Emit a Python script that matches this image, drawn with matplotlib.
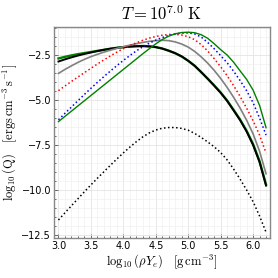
import matplotlib
matplotlib.use("Agg")
import matplotlib.pyplot as plt
from matplotlib.ticker import MultipleLocator

plt.rcParams['mathtext.fontset'] = 'cm'

log_rho = [3.0, 3.1, 3.2, 3.3, 3.4, 3.5, 3.6, 3.7, 3.8, 3.9, 4.0, 4.1, 4.2, 4.3, 4.4, 4.5,
           4.6, 4.7, 4.8, 4.9, 5.0, 5.1, 5.2, 5.3, 5.4, 5.5, 5.6, 5.7, 5.8, 5.9, 6.0, 6.1, 6.2]

q_black_thick = [-2.86, -2.74, -2.63, -2.53, -2.44, -2.36, -2.28, -2.21, -2.15, -2.1, -2.06,
                 -2.03, -2.01, -2.0, -2.02, -2.06, -2.14, -2.26, -2.4, -2.58, -2.82, -3.1,
                 -3.45, -3.82, -4.2, -4.6, -5.05, -5.58, -6.12, -6.75, -7.5, -8.45, -9.76]
q_green_thick = [-2.69, -2.6, -2.52, -2.45, -2.39, -2.33, -2.27, -2.21, -2.15, -2.1, -2.06,
                 -2.03, -2.01, -2.0, -2.02, -2.06, -2.14, -2.26, -2.4, -2.58, -2.82, -3.1,
                 -3.45, -3.81, -4.19, -4.58, -5.03, -5.55, -6.09, -6.71, -7.45, -8.4, -9.7]
q_gray = [-3.52, -3.3, -3.1, -2.91, -2.74, -2.59, -2.46, -2.34, -2.23, -2.13, -2.04, -1.95,
          -1.87, -1.8, -1.74, -1.7, -1.68, -1.7, -1.77, -1.89, -2.06, -2.3, -2.6, -2.95,
          -3.35, -3.8, -4.3, -4.85, -5.45, -6.12, -6.88, -7.85, -9.1]
q_red = [-4.48, -4.22, -3.97, -3.72, -3.48, -3.24, -3.0, -2.77, -2.55, -2.34, -2.15, -1.98,
         -1.82, -1.68, -1.56, -1.47, -1.4, -1.36, -1.35, -1.39, -1.48, -1.65, -1.92, -2.27,
         -2.7, -3.15, -3.65, -4.2, -4.8, -5.45, -6.15, -6.95, -7.95]
q_blue = [-6.1, -5.74, -5.39, -5.04, -4.69, -4.35, -4.02, -3.7, -3.39, -3.09, -2.8, -2.53,
          -2.27, -2.04, -1.84, -1.67, -1.53, -1.42, -1.33, -1.28, -1.27, -1.33, -1.5, -1.8,
          -2.15, -2.53, -2.93, -3.4, -3.92, -4.48, -5.15, -6.0, -6.95]
q_green = [-6.2, -5.91, -5.62, -5.33, -5.04, -4.75, -4.46, -4.17, -3.88, -3.59, -3.3, -3.01,
           -2.72, -2.43, -2.15, -1.88, -1.64, -1.45, -1.32, -1.25, -1.23, -1.26, -1.37, -1.57,
           -1.87, -2.2, -2.5, -2.9, -3.38, -3.85, -4.45, -5.3, -6.54]
q_dotted = [-11.67, -11.27, -10.88, -10.49, -10.1, -9.72, -9.35, -8.99, -8.63, -8.28, -7.94,
            -7.62, -7.32, -7.05, -6.83, -6.67, -6.57, -6.53, -6.53, -6.58, -6.68, -6.86,
            -7.08, -7.33, -7.6, -7.92, -8.33, -8.84, -9.4, -10.0, -10.65, -11.45, -12.35]

fig = plt.figure(figsize=(2.78, 2.78), dpi=100)
ax = fig.add_axes([0.194, 0.144, 0.777, 0.759])

ax.plot(log_rho, q_green_thick, color='green', lw=1.7)
ax.plot(log_rho, q_black_thick, color='black', lw=1.4)
ax.plot(log_rho, q_gray, color='gray', lw=1.2)
ax.plot(log_rho, q_red, color='red', lw=1.1, ls=':')
ax.plot(log_rho, q_blue, color='blue', lw=1.1, ls=':')
ax.plot(log_rho, q_green, color='green', lw=1.0)
ax.plot(log_rho, q_dotted, color='black', lw=1.1, ls=':')

ax.set_xlim(2.93, 6.26)
ax.set_ylim(-12.67, -0.94)
ax.xaxis.set_major_locator(MultipleLocator(0.5))
ax.xaxis.set_minor_locator(MultipleLocator(0.1))
ax.yaxis.set_major_locator(MultipleLocator(2.5))
ax.yaxis.set_minor_locator(MultipleLocator(0.5))
ax.grid(which='major', color='#e4e4e4', lw=0.6)
ax.grid(which='minor', color='#f0f0f0', lw=0.5)
ax.tick_params(which='both', direction='in', colors='#555555', labelcolor='black', labelsize=7, width=0.6, pad=2)
ax.tick_params(which='major', length=3)
ax.tick_params(which='minor', length=1.5)
for s in ax.spines.values():
    s.set_color('#888888')
    s.set_linewidth(1.0)

ax.set_title(r'$T = 10^{7.0}\ \mathrm{K}$', fontsize=12, pad=5)
ax.set_xlabel(r'$\log_{10}(\rho Y_e)\quad[\mathrm{g\,cm^{-3}}]$', fontsize=9, labelpad=1)
ax.set_ylabel(r'$\log_{10}(\mathrm{Q})\quad[\mathrm{ergs\,cm^{-3}\,s^{-1}}]$', fontsize=9, labelpad=2)

fig.savefig('out.png', dpi=100)
